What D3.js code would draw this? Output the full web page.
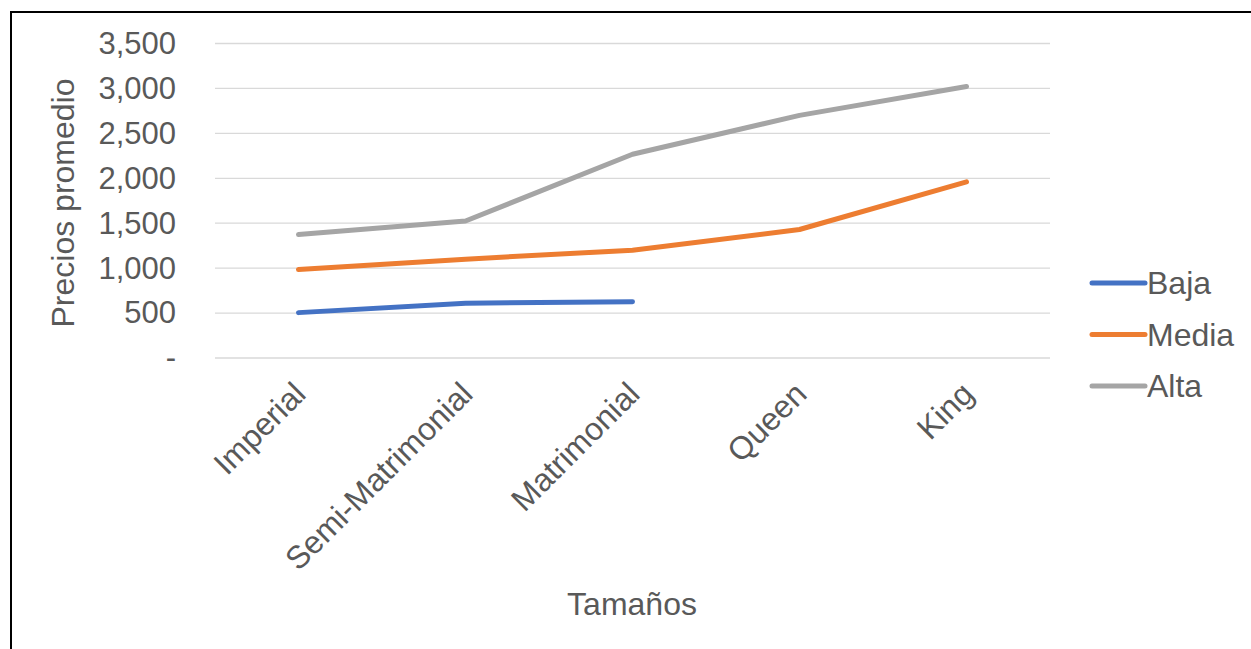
<!DOCTYPE html>
<html>
<head>
<meta charset="utf-8">
<script src="https://cdn.jsdelivr.net/npm/d3@7"></script>
<style>
  body { margin: 0; background: #fff; }
  svg { display: block; font-family: "Liberation Sans", Arial, sans-serif; }
</style>
</head>
<body>
<svg width="1251" height="649"></svg>
<script>
// datos
const tamanos = ["Imperial", "Semi-Matrimonial", "Matrimonial", "Queen", "King"];
const baja = [505, 610, 625, null, null];
const media = [985, 1100, 1200, 1430, 1960];
const alta = [1374, 1525, 2267, 2700, 3022];
const ticksY = [0, 500, 1000, 1500, 2000, 2500, 3000, 3500];

const series = [
    { nombre: "Baja", valores: baja, color: "#4472C4" },
    { nombre: "Media", valores: media, color: "#ED7D31" },
    { nombre: "Alta", valores: alta, color: "#A5A5A5" }
];

const svg = d3.select("svg");
const gris = "#595959";

// borde del área del gráfico
svg.append("rect")
    .attr("x", 11).attr("y", 12)
    .attr("width", 1260).attr("height", 700)
    .attr("fill", "none")
    .attr("stroke", "#000")
    .attr("stroke-width", 2);

const x = d3.scaleBand()
    .domain(tamanos)
    .range([215, 1050]);

const y = d3.scaleLinear()
    .domain([0, 3500])
    .range([358, 43.5]);

// líneas de cuadrícula
svg.append("g")
    .selectAll("line")
    .data(ticksY)
    .enter()
    .append("line")
    .attr("x1", 215).attr("x2", 1050)
    .attr("y1", d => y(d)).attr("y2", d => y(d))
    .attr("stroke", "#D9D9D9")
    .attr("stroke-width", 1.3);

// eje Y
const fmt = d3.format(",");
const ejeY = svg.append("g")
    .attr("transform", "translate(176,0)")
    .call(d3.axisLeft(y).tickValues(ticksY).tickSize(0).tickPadding(0)
        .tickFormat(d => d === 0 ? "-" : fmt(d)));
ejeY.select(".domain").remove();
ejeY.selectAll("text")
    .attr("fill", gris)
    .style("font-size", "31px")
    .style("font-family", "Liberation Sans, Arial, sans-serif");

// eje X
const ejeX = svg.append("g")
    .attr("transform", "translate(0,358)")
    .call(d3.axisBottom(x).tickSize(0));
ejeX.select(".domain").remove();
ejeX.selectAll("text")
    .attr("fill", gris)
    .style("font-size", "32px")
    .style("font-family", "Liberation Sans, Arial, sans-serif")
    .attr("text-anchor", "end")
    .attr("dy", 0)
    .attr("y", 0)
    .attr("transform", "translate(9,38) rotate(-45)");

// líneas de datos
const linea = d3.line()
    .defined(d => d.v != null)
    .x(d => x(d.c) + x.bandwidth() / 2)
    .y(d => y(d.v));

svg.append("g")
    .selectAll("path")
    .data(series)
    .enter()
    .append("path")
    .attr("d", s => linea(s.valores.map((v, i) => ({ c: tamanos[i], v: v }))))
    .attr("fill", "none")
    .attr("stroke", s => s.color)
    .attr("stroke-width", 5)
    .attr("stroke-linecap", "round")
    .attr("stroke-linejoin", "round");

// títulos de ejes
svg.append("text")
    .attr("transform", "translate(74,203) rotate(-90)")
    .attr("text-anchor", "middle")
    .attr("fill", gris)
    .style("font-size", "32px")
    .text("Precios promedio");

svg.append("text")
    .attr("x", 632).attr("y", 615)
    .attr("text-anchor", "middle")
    .attr("fill", gris)
    .style("font-size", "32px")
    .text("Tamaños");

// leyenda
const leyenda = svg.append("g")
    .selectAll("g")
    .data(series)
    .enter()
    .append("g")
    .attr("transform", (d, i) => `translate(1090,${283 + i * 51.5})`);

leyenda.append("line")
    .attr("x1", 2).attr("x2", 55)
    .attr("stroke", d => d.color)
    .attr("stroke-width", 5)
    .attr("stroke-linecap", "round");

leyenda.append("text")
    .attr("x", 57)
    .attr("dy", "0.35em")
    .attr("fill", gris)
    .style("font-size", "32px")
    .text(d => d.nombre);
</script>
</body>
</html>
